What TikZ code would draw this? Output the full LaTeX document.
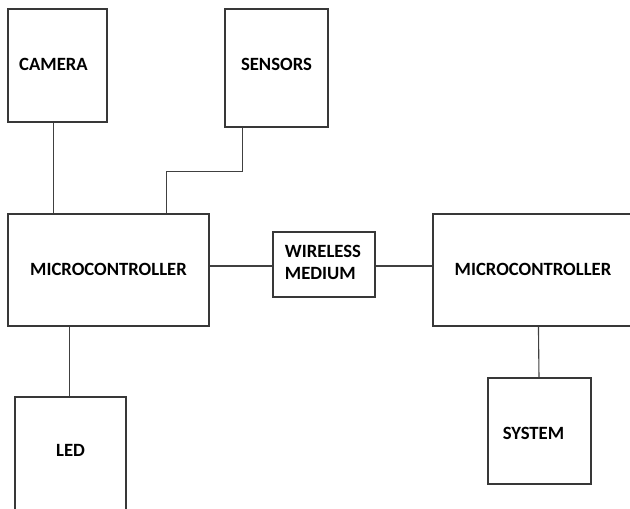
\documentclass[tikz,border=0pt]{standalone}
\usepackage{fontspec}
\setmainfont{Carlito}[BoldFont={Carlito Bold}]
\usetikzlibrary{calc}
\begin{document}
\begin{tikzpicture}[x=1pt,y=-1pt,
  box/.style={draw=black!78, line width=1.1pt, rectangle, inner sep=0pt},
  lbl/.style={inner sep=0pt, font=\fontsize{18.7}{22}\selectfont\bfseries, text=black},
  wire/.style={draw=black!75, line width=1.1pt}]
\useasboundingbox (0,0) rectangle (630,509);
\fill[white] (0,0) rectangle (630,509);
\begin{scope}
\clip (0,0) rectangle (630,509);
\node[box, minimum width=99pt, minimum height=113pt] (cam) at (57.5,65.5) {};
\node[box, minimum width=103pt, minimum height=118pt] (sens) at (276.5,68) {};
\node[box, minimum width=201pt, minimum height=112pt] (mc1) at (108.5,270) {};
\node[box, minimum width=102pt, minimum height=65pt] (wm) at (324,264.5) {};
\node[box, minimum width=200pt, minimum height=112pt] (mc2) at (533,270) {};
\node[box, minimum width=103pt, minimum height=106pt] (sys) at (539.5,431) {};
\node[box, minimum width=111pt, minimum height=130pt] (led) at (70.5,462) {};
\end{scope}
\node[lbl] (camt) at (53.5,64) {CAMERA};
\node[lbl] (senst) at (276.5,64) {SENSORS};
\node[lbl] (mc1t) at (108.5,269) {MICROCONTROLLER};
\node[lbl, align=left] (wmt) at (323,262) {WIRELESS\\MEDIUM};
\node[lbl] (mc2t) at (533,269) {MICROCONTROLLER};
\node[lbl] (syst) at (533.5,433) {SYSTEM};
\node[lbl] (ledt) at (70.5,450) {LED};
\draw[wire] ([xshift=46pt]cam.south west) -- ([xshift=46pt]mc1.north west);
\draw[wire] ([xshift=18pt]sens.south west) -- ++(0,44) -| ([xshift=159pt]mc1.north west);
\draw[wire] (mc1.east |- 0,266) -- (wm.west |- 0,266);
\draw[wire] (wm.east |- 0,266) -- (mc2.west |- 0,266);
\draw[wire] ([xshift=62pt]mc1.south west) -- ([xshift=55pt]led.north west);
\draw[wire] ([xshift=106pt]mc2.south west) -- (sys.north -| 539,0);
\end{tikzpicture}
\end{document}
